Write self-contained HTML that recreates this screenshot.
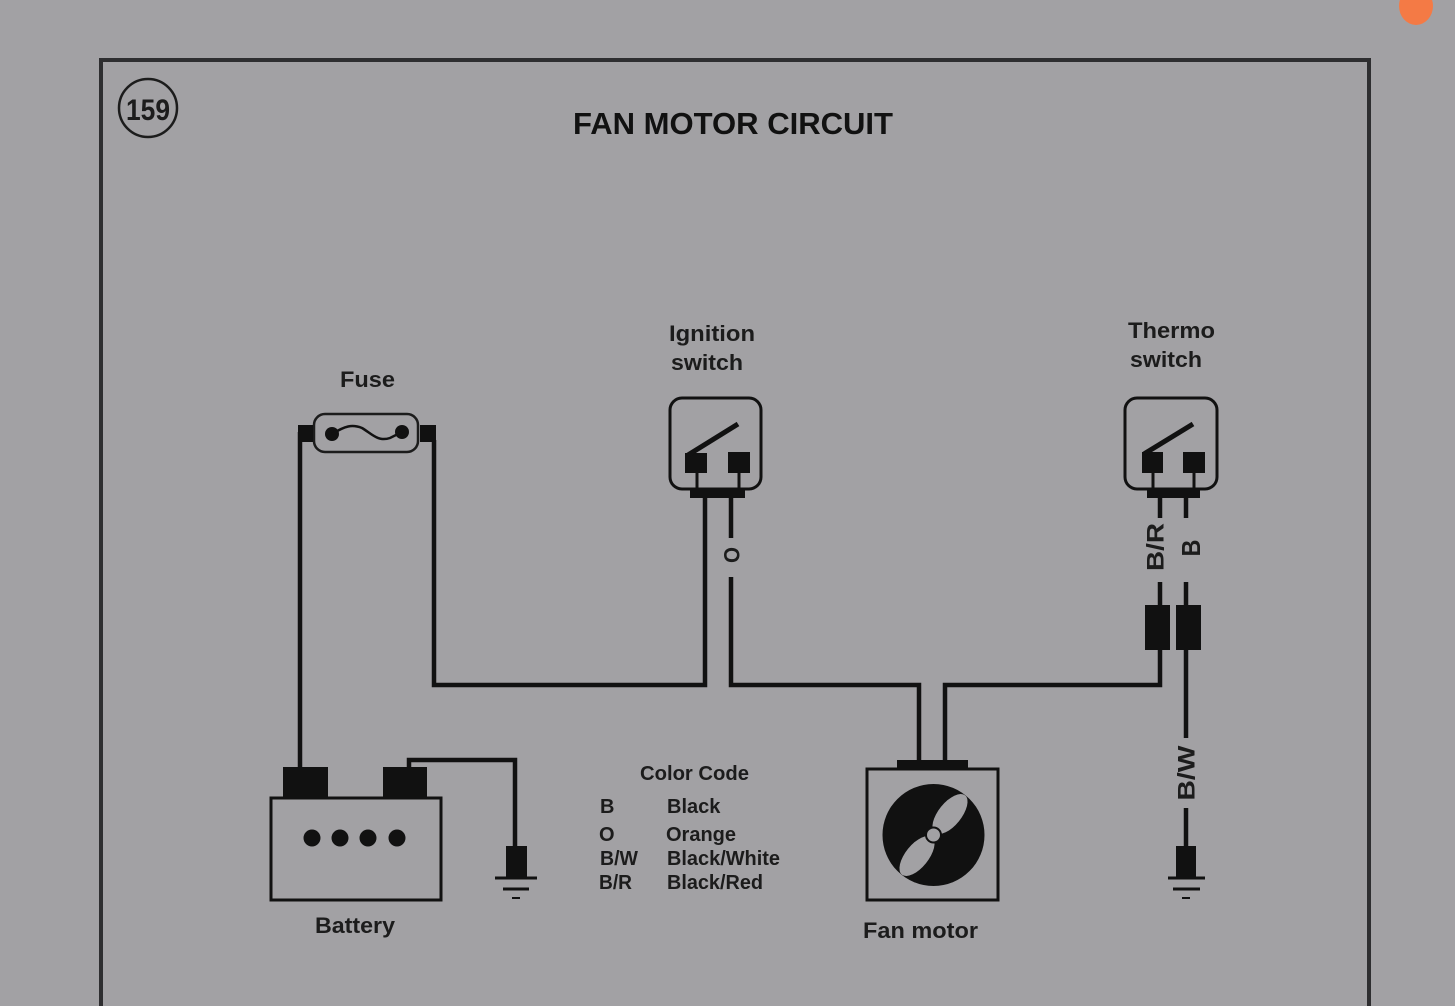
<!DOCTYPE html>
<html>
<head>
<meta charset="utf-8">
<style>
  html, body { margin:0; padding:0; background:#a2a1a4; }
  body { width:1455px; height:1006px; overflow:hidden; }
  svg { display:block; }
  text { font-family:"Liberation Sans", Arial, sans-serif; fill:#1c1c1c; }
</style>
</head>
<body>
<svg width="1455" height="1006" viewBox="0 0 1455 1006" xmlns="http://www.w3.org/2000/svg">
  <rect x="0" y="0" width="1455" height="1006" fill="#a2a1a4"/>

  <!-- orange dot -->
  <ellipse cx="1416" cy="6" rx="17" ry="19" fill="#f47a45"/>

  <!-- frame -->
  <path d="M101,1010 V60 H1369 V1010" fill="none" stroke="#2e2e30" stroke-width="4"/>

  <!-- 159 circle -->
  <circle cx="148" cy="108" r="29" fill="none" stroke="#1c1c1c" stroke-width="2.5"/>
  <text x="148" y="120" text-anchor="middle" font-size="30" font-weight="bold" textLength="44" lengthAdjust="spacingAndGlyphs">159</text>

  <!-- title -->
  <text x="573" y="134" font-size="31" font-weight="bold" textLength="320" lengthAdjust="spacingAndGlyphs" style="fill:#111">FAN MOTOR CIRCUIT</text>

  <!-- labels -->
  <g font-weight="bold" font-size="22">
    <text x="340" y="387" textLength="55" lengthAdjust="spacingAndGlyphs">Fuse</text>
    <text x="669" y="341" textLength="86" lengthAdjust="spacingAndGlyphs">Ignition</text>
    <text x="671" y="370" textLength="72" lengthAdjust="spacingAndGlyphs">switch</text>
    <text x="1128" y="338" textLength="87" lengthAdjust="spacingAndGlyphs">Thermo</text>
    <text x="1130" y="367" textLength="72" lengthAdjust="spacingAndGlyphs">switch</text>
    <text x="315" y="933" textLength="80" lengthAdjust="spacingAndGlyphs">Battery</text>
    <text x="863" y="938" textLength="115" lengthAdjust="spacingAndGlyphs">Fan motor</text>
  </g>

  <!-- color code -->
  <g font-weight="bold" font-size="20" style="fill:#111">
    <text x="640" y="780" textLength="109" lengthAdjust="spacingAndGlyphs">Color Code</text>
    <text x="600" y="813">B</text>
    <text x="667" y="813">Black</text>
    <text x="599" y="841">O</text>
    <text x="666" y="841">Orange</text>
    <text x="600" y="865" textLength="38" lengthAdjust="spacingAndGlyphs">B/W</text>
    <text x="667" y="865" textLength="113" lengthAdjust="spacingAndGlyphs">Black/White</text>
    <text x="599" y="889" textLength="33" lengthAdjust="spacingAndGlyphs">B/R</text>
    <text x="667" y="889" textLength="96" lengthAdjust="spacingAndGlyphs">Black/Red</text>
  </g>

  <!-- wires -->
  <g fill="none" stroke="#111" stroke-width="4.5" stroke-linejoin="miter">
    <path d="M300,768 V432"/>
    <path d="M434,440 V685 H705 V497"/>
    <path d="M731,497 V538"/>
    <path d="M731,577 V685 H919 V762"/>
    <path d="M945,762 V685 H1160 V650"/>
    <path d="M1160,497 V518"/>
    <path d="M1160,582 V606"/>
    <path d="M1186,497 V518"/>
    <path d="M1186,582 V606"/>
    <path d="M1186,650 V738"/>
    <path d="M1186,808 V847"/>
    <path d="M409,768 V760 H515 V847"/>
  </g>

  <!-- fuse -->
  <rect x="314" y="414" width="104" height="38" rx="11" fill="none" stroke="#1c1c1c" stroke-width="2.5"/>
  <rect x="298" y="425" width="15" height="17" fill="#111"/>
  <rect x="420" y="425" width="16" height="17" fill="#111"/>
  <circle cx="332" cy="434" r="7" fill="#111"/>
  <circle cx="402" cy="432" r="7" fill="#111"/>
  <path d="M332,434 C345,426 352,424 362,428 C372,434 378,442 390,438 L402,432" fill="none" stroke="#111" stroke-width="2.5"/>

  <!-- ignition switch -->
  <rect x="670" y="398" width="91" height="91" rx="12" fill="none" stroke="#111" stroke-width="3"/>
  <rect x="685" y="453" width="22" height="20" fill="#111"/>
  <rect x="728" y="452" width="22" height="21" fill="#111"/>
  <line x1="688" y1="455" x2="738" y2="424" stroke="#111" stroke-width="5"/>
  <line x1="697" y1="472" x2="697" y2="490" stroke="#111" stroke-width="3"/>
  <line x1="739" y1="472" x2="739" y2="490" stroke="#111" stroke-width="3"/>
  <rect x="690" y="489" width="55" height="9" fill="#111"/>
  <text transform="translate(732,555) rotate(-90)" text-anchor="middle" dominant-baseline="central" font-size="22" font-weight="bold" textLength="16" lengthAdjust="spacingAndGlyphs">O</text>

  <!-- thermo switch -->
  <rect x="1125" y="398" width="92" height="91" rx="12" fill="none" stroke="#111" stroke-width="3"/>
  <rect x="1142" y="452" width="21" height="21" fill="#111"/>
  <rect x="1183" y="452" width="22" height="21" fill="#111"/>
  <line x1="1144" y1="454" x2="1193" y2="424" stroke="#111" stroke-width="5"/>
  <line x1="1153" y1="472" x2="1153" y2="490" stroke="#111" stroke-width="3"/>
  <line x1="1194" y1="472" x2="1194" y2="490" stroke="#111" stroke-width="3"/>
  <rect x="1147" y="488" width="53" height="10" fill="#111"/>
  <text transform="translate(1156,547) rotate(-90)" text-anchor="middle" dominant-baseline="central" font-size="24" font-weight="bold" textLength="48" lengthAdjust="spacingAndGlyphs">B/R</text>
  <text transform="translate(1191,548) rotate(-90)" text-anchor="middle" dominant-baseline="central" font-size="26" font-weight="bold" textLength="17" lengthAdjust="spacingAndGlyphs">B</text>

  <!-- connectors -->
  <rect x="1145" y="605" width="25" height="45" fill="#111"/>
  <rect x="1176" y="605" width="25" height="45" fill="#111"/>

  <!-- B/W label -->
  <text transform="translate(1187,773) rotate(-90)" text-anchor="middle" dominant-baseline="central" font-size="24" font-weight="bold" textLength="55" lengthAdjust="spacingAndGlyphs">B/W</text>

  <!-- right ground -->
  <rect x="1176" y="846" width="20" height="31" fill="#111"/>
  <line x1="1168" y1="878" x2="1205" y2="878" stroke="#111" stroke-width="3"/>
  <line x1="1173" y1="889" x2="1200" y2="889" stroke="#111" stroke-width="3"/>
  <line x1="1182" y1="898" x2="1190" y2="898" stroke="#111" stroke-width="2"/>

  <!-- battery -->
  <rect x="271" y="798" width="170" height="102" fill="none" stroke="#111" stroke-width="3"/>
  <rect x="283" y="767" width="45" height="31" fill="#111"/>
  <rect x="383" y="767" width="44" height="31" fill="#111"/>
  <circle cx="312" cy="838" r="8.5" fill="#111"/>
  <circle cx="340" cy="838" r="8.5" fill="#111"/>
  <circle cx="368" cy="838" r="8.5" fill="#111"/>
  <circle cx="397" cy="838" r="8.5" fill="#111"/>

  <!-- battery ground -->
  <rect x="506" y="846" width="21" height="31" fill="#111"/>
  <line x1="495" y1="878" x2="537" y2="878" stroke="#111" stroke-width="3"/>
  <line x1="503" y1="889" x2="529" y2="889" stroke="#111" stroke-width="3"/>
  <line x1="512" y1="898" x2="520" y2="898" stroke="#111" stroke-width="2"/>

  <!-- fan motor -->
  <rect x="897" y="760" width="71" height="10" fill="#111"/>
  <rect x="867" y="769" width="131" height="131" fill="none" stroke="#111" stroke-width="3"/>
  <circle cx="933.5" cy="835" r="51" fill="#111"/>
  <ellipse cx="950" cy="814" rx="24" ry="11.5" transform="rotate(-51 950 814)" fill="#a2a1a4"/>
  <ellipse cx="917" cy="856" rx="24" ry="11.5" transform="rotate(-51 917 856)" fill="#a2a1a4"/>
  <circle cx="933.5" cy="835" r="7.5" fill="#a2a1a4" stroke="#111" stroke-width="2"/>
</svg>
</body>
</html>
